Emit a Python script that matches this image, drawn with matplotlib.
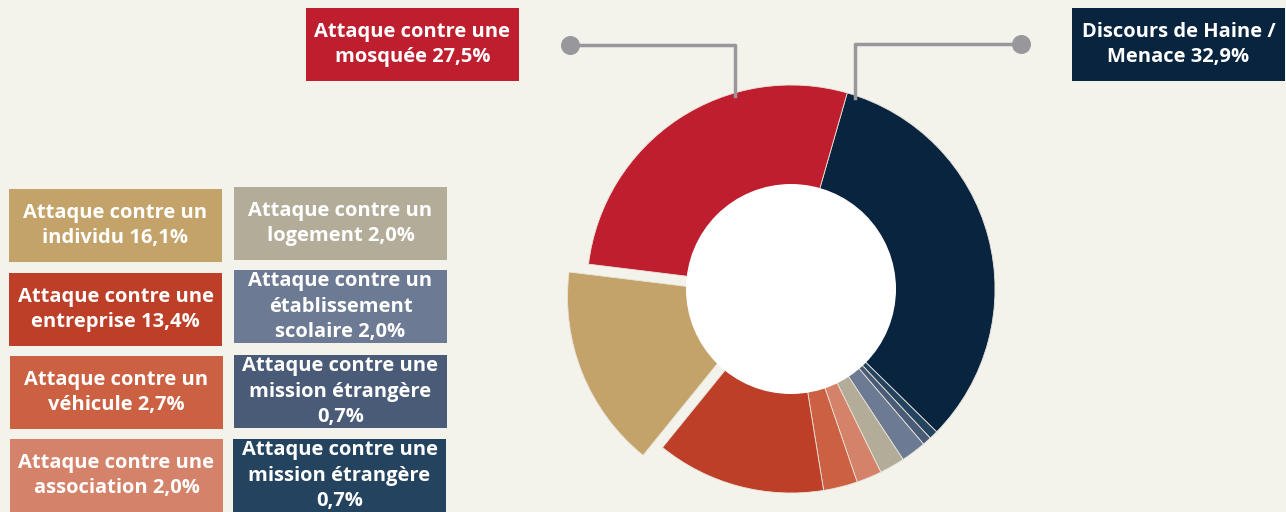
import matplotlib.pyplot as plt
from matplotlib.patches import Rectangle, Circle

# data, in drawing order (clockwise from the top)
categories = ["Discours de Haine / Menace", "Attaque contre une mission étrangère (2)",
              "Attaque contre une mission étrangère (1)", "Attaque contre un établissement scolaire",
              "Attaque contre un logement", "Attaque contre une association",
              "Attaque contre un véhicule", "Attaque contre une entreprise",
              "Attaque contre un individu", "Attaque contre une mosquée"]
values = [32.9, 0.7, 0.7, 2.0, 2.0, 2.0, 2.7, 13.4, 16.1, 27.5]
colors = ["#08243f", "#23435f", "#4a5b78", "#6d7a93", "#b3ac99",
          "#d5826a", "#cb6142", "#be3f28", "#c3a369", "#be1e2d"]

# label boxes
box_texts = ["Attaque contre une\nmosquée 27,5%",
             "Discours de Haine /\nMenace 32,9%",
             "Attaque contre un\nindividu 16,1%",
             "Attaque contre un\nlogement 2,0%",
             "Attaque contre une\nentreprise 13,4%",
             "Attaque contre un\nétablissement\nscolaire 2,0%",
             "Attaque contre un\nvéhicule 2,7%",
             "Attaque contre une\nmission étrangère\n0,7%",
             "Attaque contre une\nassociation 2,0%",
             "Attaque contre une\nmission étrangère\n0,7%"]
box_colors = ["#be1e2d", "#08243f", "#c3a369", "#b3ac99", "#be3f28",
              "#6d7a93", "#cb6142", "#4a5b78", "#d5826a", "#23435f"]
# left, top of each box in pixels from the top-left corner
box_pos = [(306, 8), (1072, 8), (9, 189), (234, 187), (9, 273),
           (234, 270), (10, 356), (234, 355), (10, 439), (233, 439)]

W, H = 1286, 512
bg = "#f3f2eb"

fig = plt.figure(figsize=(W / 100, H / 100), dpi=100)
fig.patch.set_facecolor(bg)
ax = fig.add_axes([0, 0, 1, 1])
ax.set_facecolor(bg)

cx, cy, R = 791, H - 289, 204
# explode offsets are in data units (pixels here), not scaled by radius
explode = [0] * len(values)
explode[categories.index("Attaque contre un individu")] = 21
ax.pie(values, colors=colors, explode=explode, startangle=74, counterclock=False,
       center=(cx, cy), radius=R, frame=True,
       wedgeprops=dict(linewidth=0.6, edgecolor="#e9e4da"))
ax.add_patch(Circle((cx, cy), 105, facecolor="white", edgecolor="none", zorder=3))

# connector lines
line_c = "#98989c"
ax.plot([570, 735, 735], [H - 45, H - 45, H - 96], color=line_c, lw=2.5, zorder=1)
ax.plot([1021, 855, 855], [H - 44, H - 44, H - 98], color=line_c, lw=2.5, zorder=1)
ax.scatter([570, 1021], [H - 45, H - 44], s=160, color=line_c, zorder=2)

bw, bh = 213, 73
for txt, col, (x, y) in zip(box_texts, box_colors, box_pos):
    ax.add_patch(Rectangle((x, H - y - bh), bw, bh, facecolor=col, edgecolor="none", zorder=4))
    ax.text(x + bw / 2, H - y - bh / 2, txt, ha="center", va="center", color="white",
            fontsize=14.5, fontweight="bold", family=["Open Sans", "DejaVu Sans"],
            linespacing=1.38, zorder=5)

ax.set_xlim(0, W)
ax.set_ylim(0, H)
ax.set_aspect("auto")
ax.axis("off")

fig.savefig("out.png", dpi=100, facecolor=bg)
